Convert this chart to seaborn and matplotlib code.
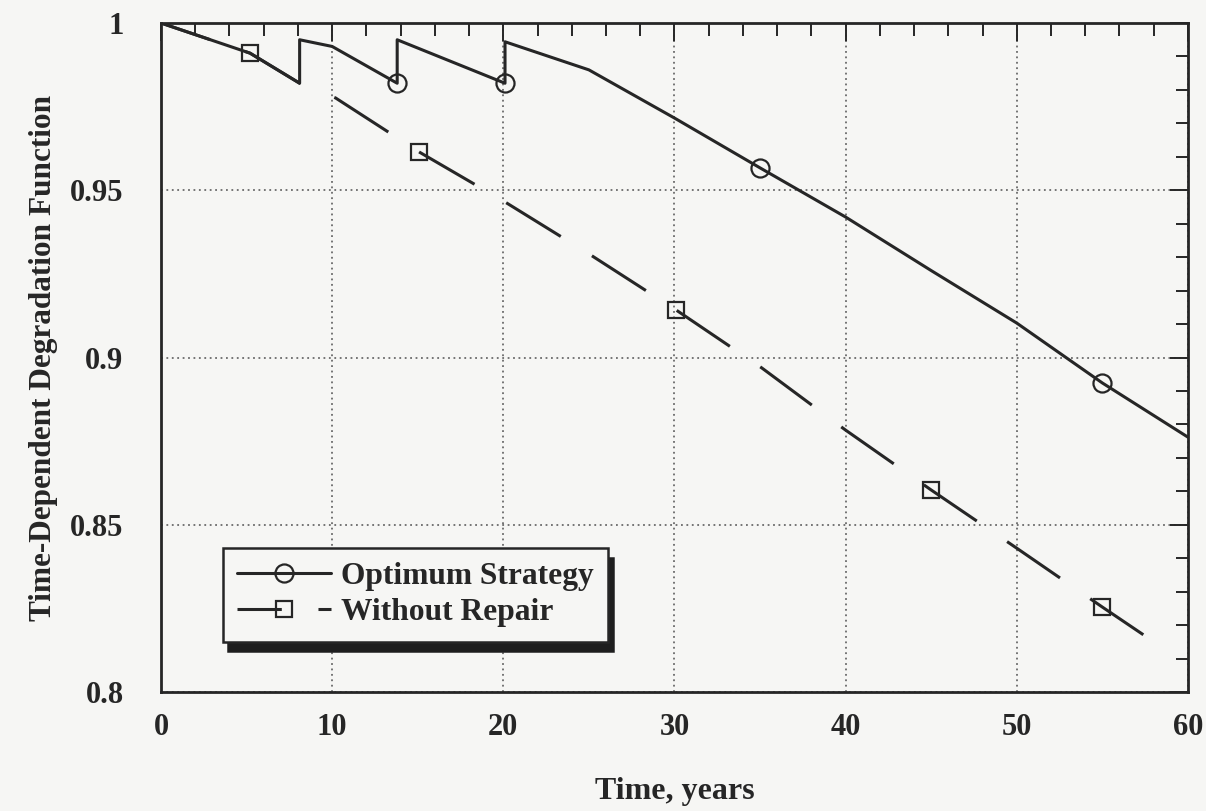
import matplotlib
matplotlib.use('Agg')
import matplotlib.pyplot as plt
import seaborn as sns
from matplotlib.lines import Line2D
from matplotlib.ticker import MultipleLocator, FixedLocator, FixedFormatter

# Optimum strategy (repairs around 8, 14 and 20 years)
opt_anos = [0.0, 5.2, 8.1, 8.1, 10.0, 13.8, 13.8, 20.1, 20.1, 25.0, 30.0,
            35.0, 40.0, 45.0, 50.0, 55.0, 60.0]
opt_valores = [1.000, 0.991, 0.982, 0.995, 0.993, 0.982, 0.995, 0.982, 0.9944,
               0.986, 0.9716, 0.9567, 0.942, 0.926, 0.9103, 0.8924, 0.8762]
opt_marcas = [5, 7, 11, 15]

# Without repair
sem_anos = [0.0, 5.2, 8.1, 10.2, 15.1, 20.1, 25.0, 30.1, 35.1, 40.0, 45.0,
            50.0, 55.0, 58.3]
sem_valores = [1.000, 0.991, 0.982, 0.9776, 0.9614, 0.9465, 0.931, 0.9142,
               0.8969, 0.8783, 0.8604, 0.843, 0.8254, 0.814]
sem_marcas = [1, 4, 7, 10, 12]

y_ticks = [0.8, 0.85, 0.9, 0.95, 1.0]
y_rotulos = ['0.8', '0.85', '0.9', '0.95', '1']

fundo = '#f6f6f4'
tinta = '#262626'

sns.set_style("white")
plt.rcParams['font.family'] = ['Liberation Serif', 'DejaVu Serif']
plt.rcParams['font.weight'] = 'bold'

fig = plt.figure(figsize=(12.06, 8.11), dpi=100, facecolor=fundo)
ax = fig.add_axes([0.1335, 0.1467, 0.8515, 0.8249])
ax.set_facecolor(fundo)

sns.lineplot(x=opt_anos, y=opt_valores, estimator=None, sort=False, ax=ax,
             color=tinta, lw=2.2, marker='o', markersize=13, mfc='none',
             mec=tinta, mew=1.6, markevery=opt_marcas, legend=False)
sns.lineplot(x=sem_anos, y=sem_valores, estimator=None, sort=False, ax=ax,
             color=tinta, lw=2.2, marker='s', markersize=12, mfc='none',
             mec=tinta, mew=1.6, markevery=sem_marcas, legend=False)
ax.lines[-1].set_linestyle((4, (21, 12)))

ax.set_xlim(0, 60)
ax.set_ylim(0.8, 1.0)
ax.xaxis.set_major_locator(MultipleLocator(10))
ax.xaxis.set_minor_locator(MultipleLocator(2))
ax.yaxis.set_major_locator(FixedLocator(y_ticks))
ax.yaxis.set_major_formatter(FixedFormatter(y_rotulos))
ax.yaxis.set_minor_locator(MultipleLocator(0.01))

ax.tick_params(which='both', direction='in', top=True, right=True,
               color=tinta, width=1.4)
ax.tick_params(which='major', length=13)
ax.tick_params(which='minor', length=9)
ax.tick_params(axis='x', which='major', pad=15, labelsize=22, labelcolor=tinta)
ax.tick_params(axis='y', which='major', pad=27, labelsize=22, labelcolor=tinta)

for s in ax.spines.values():
    s.set_color(tinta)
    s.set_linewidth(2)

ax.grid(True, which='major', linestyle=(0, (1, 2)), color='#6a6a6a', lw=1.3)

ax.set_xlabel('Time, years', fontsize=23, fontweight='bold', color=tinta)
ax.set_ylabel('Time-Dependent Degradation Function', fontsize=22.5,
              fontweight='bold', color=tinta)
ax.xaxis.set_label_coords(0.5, -0.127)
ax.yaxis.set_label_coords(-0.100, 0.5)

h_opt = Line2D([], [], color=tinta, lw=2.2, marker='o', markersize=13,
               mfc='none', mec=tinta, mew=1.6)
h_sem = Line2D([], [], color=tinta, lw=2.2, marker='s', markersize=12,
               mfc='none', mec=tinta, mew=1.6, dashes=(14.5, 12))
leg = ax.legend([h_opt, h_sem], ['Optimum Strategy', 'Without Repair'],
                loc='upper left', bbox_to_anchor=(0.060, 0.215),
                prop={'family': 'Liberation Serif', 'weight': 'bold', 'size': 22.7},
                handlelength=2.98, handletextpad=0.32, labelspacing=0.22,
                borderpad=0.45, borderaxespad=0, numpoints=1, fancybox=False,
                frameon=True, facecolor=fundo, edgecolor=tinta, framealpha=1,
                shadow={'ox': 4, 'oy': -7, 'color': '#1e1e1e', 'alpha': 1})
leg.get_frame().set_linewidth(1.8)
for t in leg.get_texts():
    t.set_color(tinta)

plt.savefig('out.png', dpi=100, facecolor=fundo)
